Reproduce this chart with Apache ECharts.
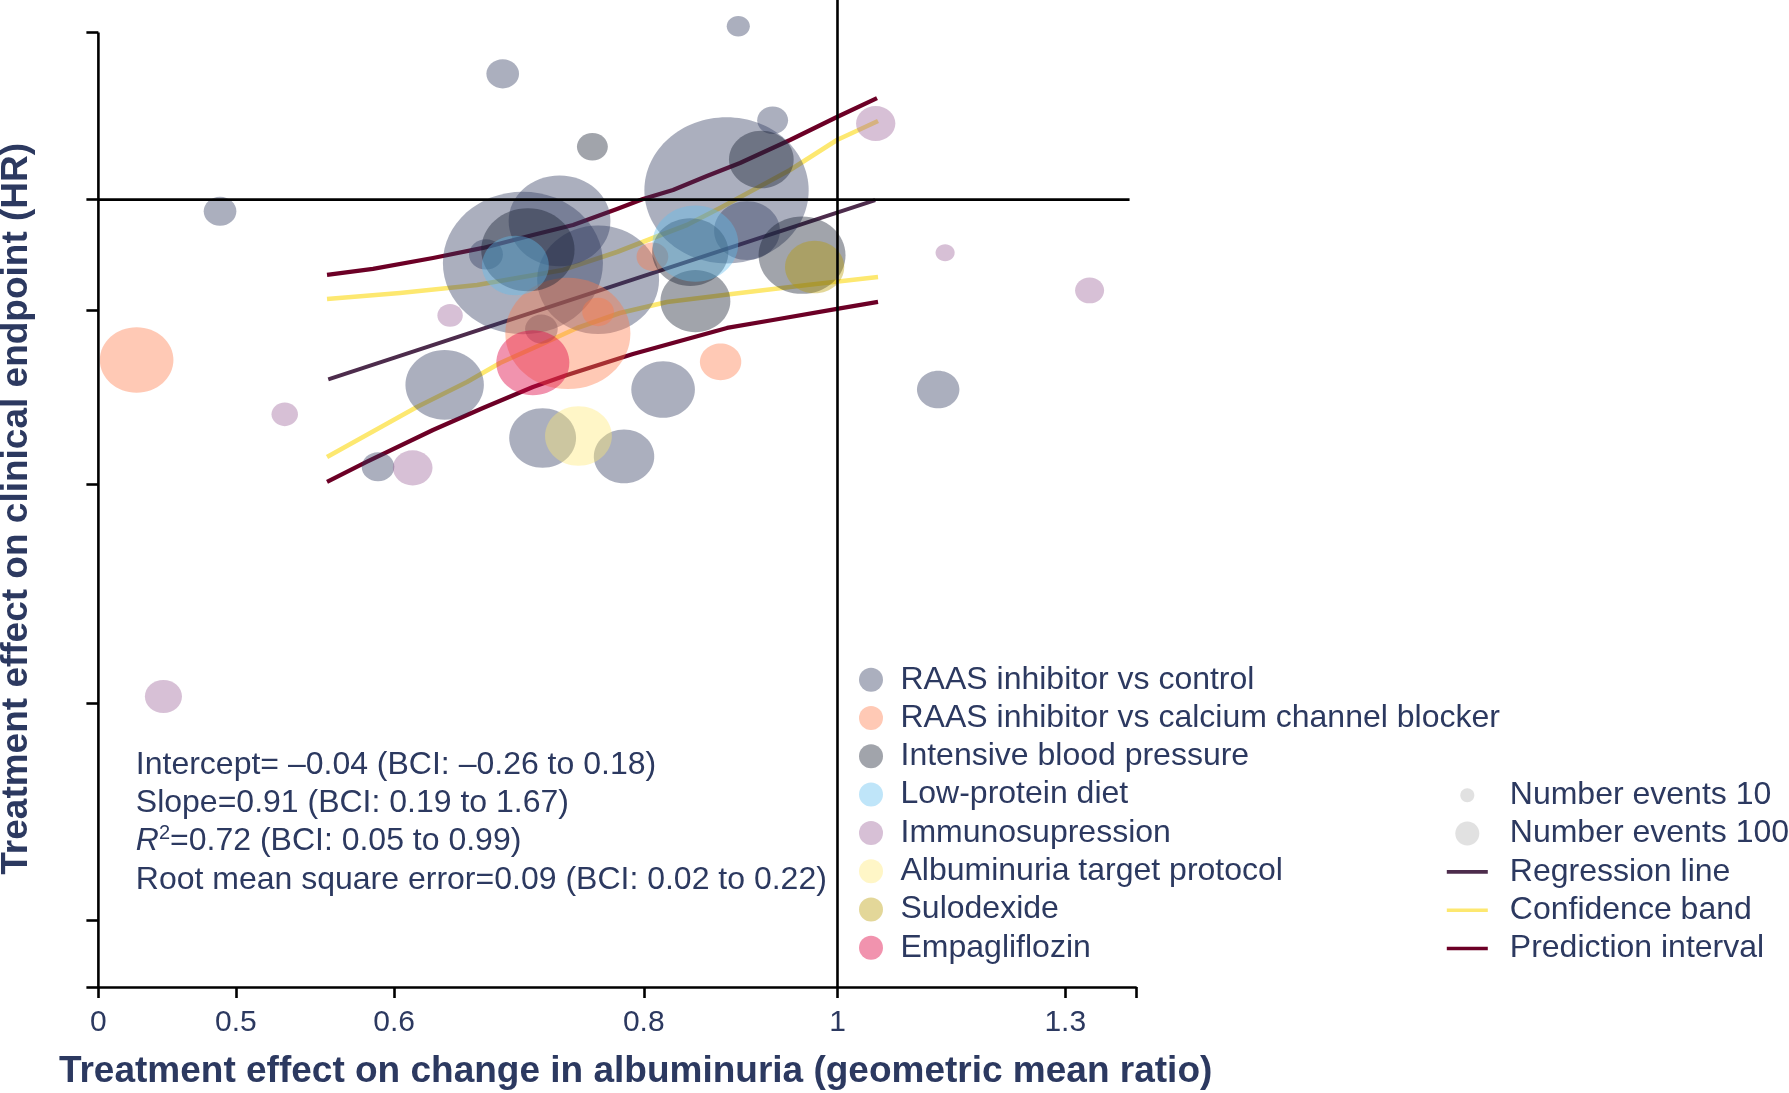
<!DOCTYPE html>
<html>
<head>
<meta charset="utf-8">
<title>Albuminuria change vs clinical endpoint</title>
<script src="https://cdn.jsdelivr.net/npm/echarts@6/dist/echarts.min.js"></script>
<style>
  html, body { margin: 0; padding: 0; background: #ffffff; }
  #chart { width: 1789px; height: 1093px; }
</style>
</head>
<body>
<div id="chart"></div>
<script>
// Trials per intervention class: [geometric mean ratio of albuminuria change, hazard ratio, number of events]
const raasVsControl = [
  [0.680, 1.190, 38], [0.667, 0.927, 41], [0.696, 0.916, 912], [0.726, 0.971, 369],
  [0.759, 0.895, 529], [0.711, 0.836, 38], [0.636, 0.774, 219], [0.818, 0.769, 144],
  [0.880, 1.013, 961], [0.892, 1.271, 19], [0.928, 1.116, 34], [0.901, 0.958, 154],
  [1.123, 0.769, 64], [0.491, 0.984, 38], [0.589, 0.691, 38], [0.712, 0.719, 159],
  [0.782, 0.701, 130]
];
const raasVsCcb = [
  [0.446, 0.801, 193], [0.733, 0.831, 557], [0.759, 0.856, 36], [0.874, 0.799, 61], [0.808, 0.924, 36]
];
const intensiveBp = [
  [0.754, 1.076, 34], [0.700, 0.933, 310], [0.916, 1.057, 149], [0.849, 0.869, 174],
  [0.960, 0.926, 269], [0.844, 0.930, 207]
];
const lowProteinDiet = [[0.690, 0.913, 159], [0.849, 0.941, 262]];
const immunosuppression = [
  [1.045, 1.111, 55], [0.640, 0.852, 23], [0.529, 0.743, 25], [0.613, 0.690, 56],
  [1.132, 0.929, 13], [1.337, 0.882, 30], [0.460, 0.503, 49]
];
const albuminuriaTarget = [[0.742, 0.721, 159]];
const sulodexide = [[0.974, 0.911, 125]];
const empagliflozin = [[0.704, 0.798, 190]];

// Meta-regression fit: [albuminuria ratio, hazard ratio]
const regressionLine = [[0.5562, 0.7799], [1.0444, 0.9994]];
const confidenceUpper = [
  [0.5554, 0.8715], [0.6041, 0.8788], [0.6602, 0.8886], [0.6913, 0.8973], [0.7289, 0.9073],
  [0.7757, 0.9301], [0.8085, 0.9483], [0.8408, 0.9655], [0.8734, 0.9885], [0.9114, 1.0162],
  [0.9468, 1.0418], [0.9994, 1.0859], [1.0478, 1.1149]
];
const confidenceLower = [
  [0.5554, 0.7005], [0.5813, 0.7221], [0.6160, 0.7506], [0.6526, 0.7770], [0.6779, 0.7977],
  [0.7099, 0.8178], [0.7408, 0.8373], [0.7783, 0.8548], [0.8217, 0.8680], [0.8938, 0.8788],
  [0.9655, 0.8886], [1.0478, 0.8985]
];
const predictionUpper = [
  [0.5554, 0.9010], [0.5856, 0.9085], [0.6275, 0.9224], [0.6647, 0.9353], [0.7041, 0.9522],
  [0.7374, 0.9655], [0.7757, 0.9871], [0.7993, 1.0008], [0.8274, 1.0134], [0.8604, 1.0332],
  [0.8938, 1.0519], [0.9468, 1.0859], [0.9994, 1.1210], [1.0466, 1.1508]
];
const predictionLower = [
  [0.5554, 0.6767], [0.5813, 0.6957], [0.6275, 0.7271], [0.6647, 0.7496], [0.7041, 0.7717],
  [0.7323, 0.7845], [0.7901, 0.8077], [0.8805, 0.8373], [0.9284, 0.8466], [0.9994, 0.8596],
  [1.0478, 0.8680]
];

// Axes (both on log scale)
const xTickValues = [0.4268, 0.5, 0.6, 0.8, 1, 1.3, 1.4101];
const xTickLabels = ['0', '0.5', '0.6', '0.8', '1', '1.3', ''];
const yTickValues = [1.26, 1, 0.858, 0.675, 0.498, 0.369, 0.3365];
const yTop = 1.318;
const refLineEnd = 1.40;

const statsLines = [
  'Intercept= \u20130.04 (BCI: \u20130.26 to 0.18)',
  'Slope=0.91 (BCI: 0.19 to 1.67)',
  '=0.72 (BCI: 0.05 to 0.99)',
  'Root mean square error=0.09 (BCI: 0.02 to 0.22)'
];

// ---------------------------------------------------------------
const L = Math.log;
const NAVY = '#2c3960';
const FONT = '"Liberation Sans", Arial, Helvetica, sans-serif';
const xMin = xTickValues[0], xMax = xTickValues[xTickValues.length - 1];
const yMin = yTickValues[yTickValues.length - 1];

const groups = [
  { name: 'RAAS inhibitor vs control', data: raasVsControl, color: 'rgba(44,55,92,0.5)' },
  { name: 'RAAS inhibitor vs calcium channel blocker', data: raasVsCcb, color: 'rgba(255,121,71,0.5)' },
  { name: 'Intensive blood pressure', data: intensiveBp, color: 'rgba(21,27,45,0.5)' },
  { name: 'Low-protein diet', data: lowProteinDiet, color: 'rgba(95,189,241,0.5)' },
  { name: 'Immunosupression', data: immunosuppression, color: 'rgba(155,97,153,0.5)' },
  { name: 'Albuminuria target protocol', data: albuminuriaTarget, color: 'rgba(255,233,115,0.5)' },
  { name: 'Sulodexide', data: sulodexide, color: 'rgba(185,155,0,0.5)' },
  { name: 'Empagliflozin', data: empagliflozin, color: 'rgba(222,10,70,0.55)' }
];

const REG_COLOR = '#4d2c4c';
const CONF_COLOR = '#fde870';
const PRED_COLOR = '#6c0026';
const SIZE_KEY = '#d9d9d9';

// Slightly wide ellipse used for every study bubble
const ELLIPSE = 'path://M100,50C100,77.6 77.6,100 50,100C22.4,100 0,77.6 0,50C0,22.4 22.4,0 50,0C77.6,0 100,22.4 100,50Z';
function bubbleSize(v) {
  const d = 5 * Math.sqrt(v[2]);
  return [d * 1.06, d / 1.06];
}

function curve(name, pts, color, width) {
  return {
    type: 'line', name: name, z: 2, silent: true, clip: false,
    symbol: 'none', showSymbol: false,
    data: pts.map(p => [L(p[0]), L(p[1])]),
    lineStyle: { color: color, width: width, cap: 'butt', join: 'round' },
    itemStyle: { color: color },
    emphasis: { disabled: true }
  };
}
function rule(pts) {
  return {
    type: 'line', z: 6, silent: true, clip: false, symbol: 'none', showSymbol: false,
    data: pts.map(p => [L(p[0]), L(p[1])]),
    lineStyle: { color: '#000', width: 2.6 },
    emphasis: { disabled: true }
  };
}

const series = [];
series.push(curve('Regression line', regressionLine, REG_COLOR, 4));
series.push(curve('Confidence band', confidenceUpper, CONF_COLOR, 4.6));
series.push(curve('Confidence band', confidenceLower, CONF_COLOR, 4.6));
series.push(curve('Prediction interval', predictionUpper, PRED_COLOR, 4.3));
series.push(curve('Prediction interval', predictionLower, PRED_COLOR, 4.3));
groups.forEach(g => {
  series.push({
    type: 'scatter', name: g.name, z: 3, silent: true, clip: false,
    symbol: ELLIPSE, symbolSize: bubbleSize,
    data: g.data.map(p => [L(p[0]), L(p[1]), p[2]]),
    itemStyle: { color: g.color },
    emphasis: { disabled: true }
  });
});
series.push({ type: 'scatter', name: 'Number events 10', data: [], itemStyle: { color: SIZE_KEY } });
series.push({ type: 'scatter', name: 'Number events 100', data: [], itemStyle: { color: SIZE_KEY } });
// y-axis spine, HR = 1 line and ratio = 1 line
series.push(rule([[xMin, yMin], [xMin, yTickValues[0]]]));
series.push(rule([[xMin, 1], [refLineEnd, 1]]));
series.push(rule([[1, yMin], [1, yTop]]));

// Legend keys drawn inside a 58 x 24 box (corner points fix the box)
const BOX = 'M0,0L0,0M58,24L58,24';
const KEY_DOT_S = 'path://' + BOX + 'M27.5,12C27.5,15.87 24.37,19 20.5,19C16.63,19 13.5,15.87 13.5,12C13.5,8.13 16.63,5 20.5,5C24.37,5 27.5,8.13 27.5,12Z';
const KEY_DOT_L = 'path://' + BOX + 'M32.5,12C32.5,18.63 27.13,24 20.5,24C13.87,24 8.5,18.63 8.5,12C8.5,5.37 13.87,0 20.5,0C27.13,0 32.5,5.37 32.5,12Z';
const KEY_LINE = 'path://' + BOX + 'M0,10.2L41,10.2L41,13.8L0,13.8Z';

const legendText = { fontSize: 32, color: NAVY, fontFamily: FONT, lineHeight: 24 };

function statText(y, text) {
  return {
    type: 'text', x: 135.8, y: y, silent: true,
    style: { text: text, fill: NAVY, font: '32px ' + FONT, align: 'left', verticalAlign: 'middle' }
  };
}

const option = {
  animation: false,
  backgroundColor: '#ffffff',
  grid: { left: 98.4, right: 1789 - 1135.8, top: 0, bottom: 1093 - 987, containLabel: false },
  xAxis: {
    type: 'value', min: L(xMin), max: L(xMax),
    axisLine: { show: true, onZero: false, lineStyle: { color: '#000', width: 2.6 } },
    axisTick: { show: true, length: 11, customValues: xTickValues.map(L), lineStyle: { color: '#000', width: 2.6 } },
    axisLabel: {
      show: true, margin: 20.6, fontSize: 30, color: NAVY, fontFamily: FONT,
      customValues: xTickValues.slice(0, -1).map(L),
      formatter: function (v) {
        let best = 0;
        xTickValues.forEach((t, i) => { if (Math.abs(L(t) - v) < Math.abs(L(xTickValues[best]) - v)) best = i; });
        return xTickLabels[best];
      }
    },
    splitLine: { show: false }
  },
  yAxis: {
    type: 'value', min: L(yMin), max: L(yTop),
    axisLine: { show: false, onZero: false },
    axisTick: { show: true, length: 12, customValues: yTickValues.map(L), lineStyle: { color: '#000', width: 2.6 } },
    axisLabel: { show: false },
    splitLine: { show: false }
  },
  legend: [
    {
      orient: 'vertical', left: 854, top: 658.7, padding: 5,
      itemWidth: 49, itemHeight: 24, itemGap: 6.3, selectedMode: false,
      textStyle: legendText,
      data: groups.map(g => ({ name: g.name, icon: 'circle' }))
    },
    {
      orient: 'vertical', left: 1441.8, top: 774.3, padding: 5,
      itemWidth: 58, itemHeight: 24, itemGap: 6.3, selectedMode: false,
      textStyle: legendText,
      data: [
        { name: 'Number events 10', icon: KEY_DOT_S, itemStyle: { color: SIZE_KEY, borderWidth: 0 } },
        { name: 'Number events 100', icon: KEY_DOT_L, itemStyle: { color: SIZE_KEY, borderWidth: 0 } },
        { name: 'Regression line', icon: KEY_LINE, itemStyle: { color: REG_COLOR, borderWidth: 0 } },
        { name: 'Confidence band', icon: KEY_LINE, itemStyle: { color: CONF_COLOR, borderWidth: 0 } },
        { name: 'Prediction interval', icon: KEY_LINE, itemStyle: { color: PRED_COLOR, borderWidth: 0 } }
      ]
    }
  ],
  graphic: [
    {
      type: 'text', x: 17.2, y: 508.8, rotation: Math.PI / 2, silent: true,
      style: { text: 'Treatment effect on clinical endpoint (HR)', fill: NAVY, font: 'bold 37px ' + FONT, align: 'center', verticalAlign: 'middle' }
    },
    {
      type: 'text', x: 635.6, y: 1072, silent: true,
      style: { text: 'Treatment effect on change in albuminuria (geometric mean ratio)', fill: NAVY, font: 'bold 37px ' + FONT, align: 'center', verticalAlign: 'middle' }
    },
    statText(765, statsLines[0]),
    statText(803, statsLines[1]),
    {
      type: 'text', x: 135.8, y: 841.2, silent: true,
      style: {
        text: '{i|R}{sup|2}{n|' + statsLines[2] + '}',
        fill: NAVY, font: '32px ' + FONT, align: 'left', verticalAlign: 'middle',
        rich: {
          i: { fontStyle: 'italic', fontSize: 32, fontFamily: FONT, lineHeight: 36, verticalAlign: 'middle', fill: NAVY },
          sup: { fontSize: 20, fontFamily: FONT, lineHeight: 29, verticalAlign: 'top', fill: NAVY },
          n: { fontSize: 32, fontFamily: FONT, lineHeight: 36, verticalAlign: 'middle', fill: NAVY }
        }
      }
    },
    statText(880, statsLines[3])
  ],
  series: series
};

const chart = echarts.init(document.getElementById('chart'), null, { renderer: 'canvas' });
chart.setOption(option);
</script>
</body>
</html>
